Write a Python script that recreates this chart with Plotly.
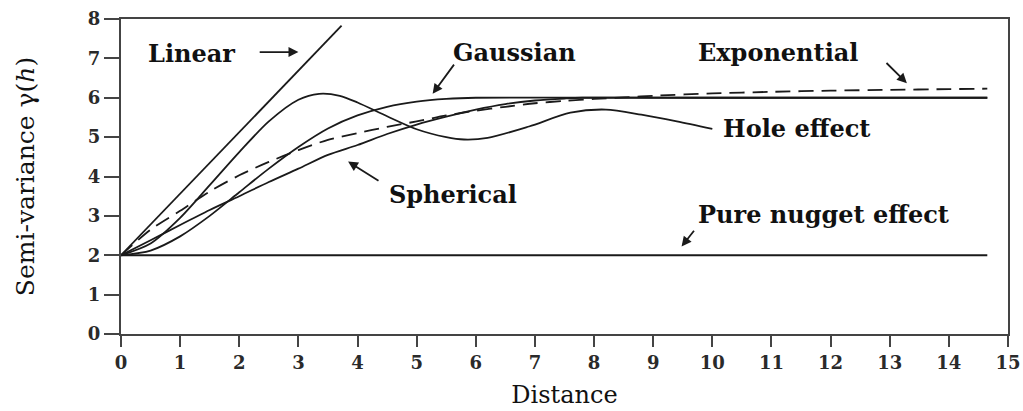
import plotly.graph_objects as go

# ---- data ----
linear_x = [0, 3.73]
linear_y = [2, 7.83]

gauss_x = [0, 0.5, 1, 1.5, 2, 2.5, 3, 3.5, 4, 4.5, 5, 5.5, 6, 9, 14.65]
gauss_y = [2, 2.12, 2.48, 3.0, 3.6, 4.2, 4.75, 5.22, 5.55, 5.77, 5.9, 5.97, 6.0, 6.0, 6.0]

sph_x = [0, 0.5, 1, 1.5, 2, 2.5, 3, 3.5, 4, 4.5, 5, 5.5, 6, 6.5, 7, 7.5, 7.8, 10, 14.65]
sph_y = [2, 2.38, 2.77, 3.15, 3.5, 3.86, 4.2, 4.55, 4.8, 5.08, 5.32, 5.52, 5.7, 5.84, 5.93, 5.98, 6.0, 6.0, 6.0]

exp_x = [0, 0.5, 1, 1.5, 2, 2.5, 3, 3.5, 4, 4.5, 5, 5.5, 6, 6.5, 7, 7.5, 8, 8.5, 9, 10, 11, 12, 13, 14, 14.65]
exp_y = [2, 2.65, 3.13, 3.62, 4.03, 4.37, 4.67, 4.93, 5.1, 5.26, 5.4, 5.55, 5.67, 5.77, 5.86, 5.92, 5.97, 6.01, 6.05, 6.11, 6.15, 6.18, 6.2, 6.22, 6.23]

hole_x = [0, 0.5, 1, 1.5, 2, 2.5, 3, 3.35, 3.7, 4, 4.5, 5, 5.5, 5.8, 6.2, 6.9, 7.6, 8.2, 8.8, 9.4, 10]
hole_y = [2, 2.3, 2.95, 3.78, 4.62, 5.4, 5.95, 6.1, 6.05, 5.88, 5.53, 5.2, 5.0, 4.94, 4.98, 5.27, 5.62, 5.7, 5.57, 5.4, 5.21]

nugget_x = [0, 14.65]
nugget_y = [2, 2]

x_ticks = list(range(0, 16))
y_ticks = list(range(0, 9))

LINE = "#1a1a1a"
AX = "#444444"
SERIF = "DejaVu Serif"

fig = go.Figure()

def add(x, y, name, dash="solid", shape="spline"):
    fig.add_trace(go.Scatter(x=x, y=y, mode="lines", name=name,
                             line=dict(color=LINE, width=1.8, dash=dash, shape=shape, smoothing=0.8),
                             hoverinfo="skip"))

add(nugget_x, nugget_y, "Pure nugget effect", shape="linear")
add(linear_x, linear_y, "Linear", shape="linear")
add(gauss_x, gauss_y, "Gaussian")
add(sph_x, sph_y, "Spherical")
add(hole_x, hole_y, "Hole effect")
add(exp_x, exp_y, "Exponential", dash="15px,8px")

lab_font = dict(family=SERIF, size=24, color="#111111")

def label(text, x, y):
    fig.add_annotation(x=x, y=y, xref="x", yref="y", text="<b>%s</b>" % text,
                       showarrow=False, xanchor="left", yanchor="middle", font=lab_font)

def arrow(tx, ty, hx, hy):
    fig.add_annotation(x=hx, y=hy, ax=tx, ay=ty, xref="x", yref="y", axref="x", ayref="y",
                       text="", showarrow=True, arrowhead=2, arrowsize=1.1, arrowwidth=1.8,
                       arrowcolor=LINE)

label("Linear", 0.42, 7.12)
arrow(2.32, 7.16, 3.0, 7.16)
label("Gaussian", 5.58, 7.15)
arrow(5.65, 6.88, 5.27, 6.1)
label("Exponential", 9.72, 7.15)
arrow(12.92, 6.92, 13.29, 6.37)
label("Hole effect", 10.14, 5.22)
label("Spherical", 4.5, 3.55)
arrow(4.38, 3.87, 3.84, 4.38)
label("Pure nugget effect", 9.72, 3.03)
arrow(9.71, 2.66, 9.48, 2.22)

tick_font = dict(family=SERIF, size=18, color="#2a2a2a")

fig.update_layout(
    width=1023, height=411,
    margin=dict(l=121, r=15, t=19, b=77),
    paper_bgcolor="white", plot_bgcolor="white",
    showlegend=False,
    xaxis=dict(range=[0, 15], tickvals=x_ticks, ticktext=["<b>%d</b>" % v for v in x_ticks],
               showgrid=False, zeroline=False, showline=True, linecolor=AX, linewidth=2,
               mirror=True, ticks="outside", ticklen=11, tickwidth=2, tickcolor=AX,
               tickfont=tick_font, automargin=False,
               title=dict(text="Distance", font=dict(family=SERIF, size=24, color="#111111"), standoff=15)),
    yaxis=dict(range=[0, 8], tickvals=y_ticks, ticktext=["<b>%d</b>" % v for v in y_ticks],
               showgrid=False, zeroline=False, showline=True, linecolor=AX, linewidth=2,
               mirror=True, ticks="outside", ticklen=15, tickwidth=2, tickcolor=AX,
               tickfont=tick_font, automargin=False,
               title=dict(text="Semi-variance γ(<i>h</i>)", font=dict(family=SERIF, size=25, color="#111111"), standoff=46)),
)

fig.write_html("out.html")
